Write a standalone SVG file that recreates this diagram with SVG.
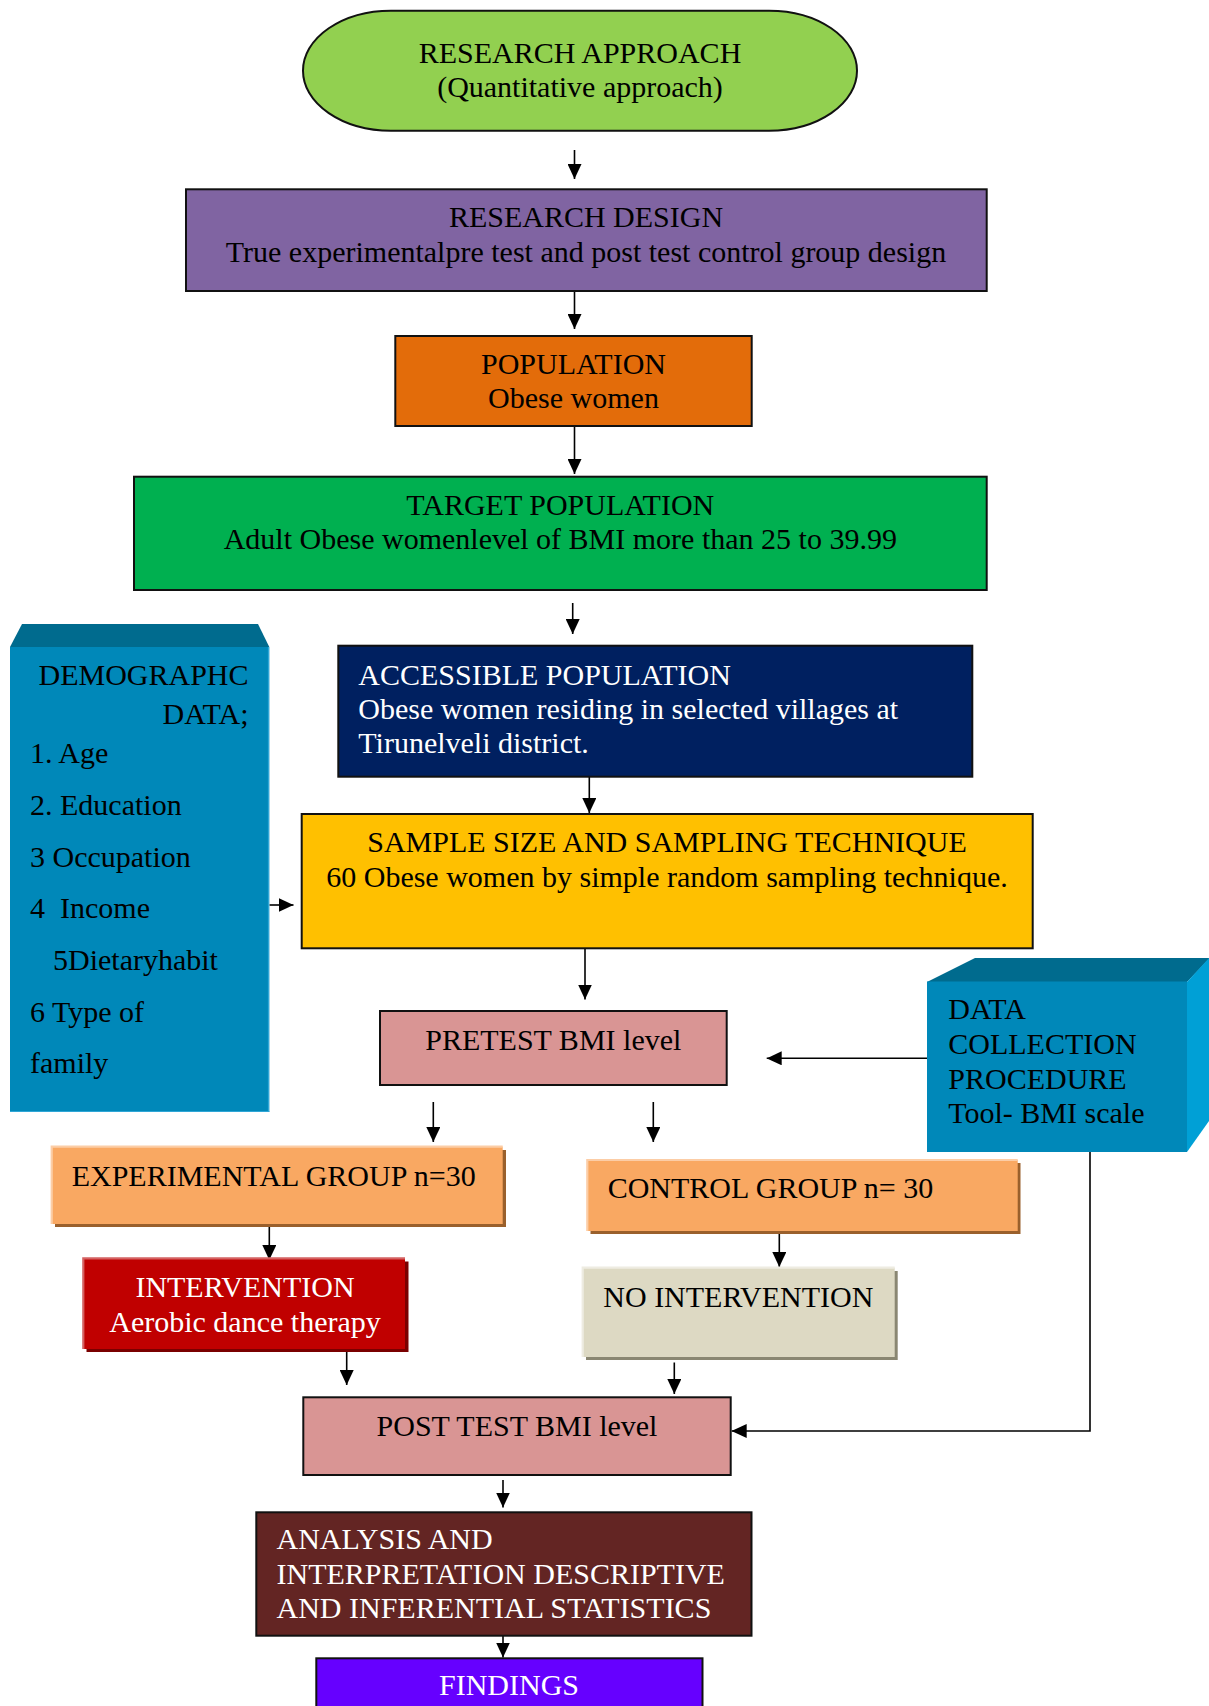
<svg xmlns="http://www.w3.org/2000/svg" width="1209" height="1706" viewBox="0 0 1209 1706">
<defs>
<marker id="ah" markerUnits="userSpaceOnUse" markerWidth="15" markerHeight="14" refX="15" refY="7" orient="auto">
<path d="M0,0 L15,7 L0,14 Z" fill="#000"/>
</marker>
<style>
text{font-family:"Liberation Serif","Times New Roman",serif;font-size:30px;fill:#000}
.w{fill:#fff}
.c{text-anchor:middle}
.r{text-anchor:end}
.box{stroke:#111;stroke-width:2}
.cn{fill:none;stroke:#000;stroke-width:1.6}
.cn2{fill:none;stroke:#000;stroke-width:1.6;marker-end:url(#ah)}
</style>
</defs>
<rect width="1209" height="1706" fill="#fff"/>

<g id="connectors">
<line class="cn2" x1="574.5" y1="150" x2="574.5" y2="179"/>
<line class="cn2" x1="574.5" y1="291" x2="574.5" y2="329"/>
<line class="cn2" x1="574.5" y1="426" x2="574.5" y2="474"/>
<line class="cn2" x1="572.7" y1="603" x2="572.7" y2="634"/>
<line class="cn2" x1="589.3" y1="777" x2="589.3" y2="813"/>
<line class="cn2" x1="269.5" y1="905" x2="293.5" y2="905"/>
<line class="cn2" x1="585" y1="948" x2="585" y2="999.5"/>
<line class="cn2" x1="927" y1="1058.3" x2="766.7" y2="1058.3"/>
<line class="cn2" x1="433.3" y1="1102" x2="433.3" y2="1142"/>
<line class="cn2" x1="653.3" y1="1102" x2="653.3" y2="1142"/>
<line class="cn2" x1="269.3" y1="1226" x2="269.3" y2="1260"/>
<line class="cn2" x1="779.3" y1="1234" x2="779.3" y2="1267"/>
<line class="cn2" x1="346.7" y1="1352" x2="346.7" y2="1385"/>
<line class="cn2" x1="674.3" y1="1362.5" x2="674.3" y2="1394"/>
<polyline class="cn2" points="1090,1152 1090,1431 731.7,1431"/>
<line class="cn2" x1="503" y1="1480" x2="503" y2="1507.5"/>
<line class="cn2" x1="503" y1="1633" x2="503" y2="1657.5"/>
</g>

<g id="research-approach">
<rect class="box" x="303" y="10.7" width="554" height="120" rx="88" ry="60" fill="#92D050"/>
<text class="c" x="580" y="62.5">RESEARCH APPROACH</text>
<text class="c" x="580" y="97">(Quantitative approach)</text>
</g>

<g id="research-design">
<rect class="box" x="186" y="189.3" width="800.7" height="101.7" fill="#8064A2"/>
<text class="c" x="586" y="227.3">RESEARCH DESIGN</text>
<text class="c" x="586" y="262.3">True experimentalpre test and post test control group design</text>
</g>

<g id="population">
<rect class="box" x="395.3" y="336" width="356.4" height="90" fill="#E36C0A"/>
<text class="c" x="573.5" y="374.3">POPULATION</text>
<text class="c" x="573.5" y="408.3">Obese women</text>
</g>

<g id="target-population">
<rect class="box" x="134" y="476.7" width="852.7" height="113.3" fill="#00B050"/>
<text class="c" x="560.3" y="515">TARGET POPULATION</text>
<text class="c" x="560.3" y="549">Adult Obese womenlevel of BMI more than 25 to 39.99</text>
</g>

<g id="demographic-data">
<polygon points="10,647 22,624 258,624 269.3,647" fill="#006B8E"/>
<rect x="10" y="647" width="259.3" height="465" fill="#0088B9"/>
<line x1="268.5" y1="647" x2="268.5" y2="1112" stroke="#2FA6D6" stroke-width="1.2"/>
<line x1="10" y1="1111.5" x2="269.3" y2="1111.5" stroke="#2FA6D6" stroke-width="1"/>
<text class="r" x="248.5" y="685">DEMOGRAPHC</text>
<text class="r" x="248.5" y="724">DATA;</text>
<text x="30" y="763">1. Age</text>
<text x="30" y="815">2. Education</text>
<text x="30" y="866.7">3 Occupation</text>
<text x="30" y="918.3" style="white-space:pre">4  Income</text>
<text x="53" y="970">5Dietaryhabit</text>
<text x="30" y="1021.7">6 Type of</text>
<text x="30" y="1073.3">family</text>
</g>

<g id="accessible-population">
<rect class="box" x="338.3" y="645.7" width="634" height="131" fill="#002060"/>
<text class="w" x="358.3" y="685">ACCESSIBLE POPULATION</text>
<text class="w" x="358.3" y="719">Obese women residing in selected villages at</text>
<text class="w" x="358.3" y="753.3">Tirunelveli district.</text>
</g>

<g id="sample-size">
<rect class="box" x="301.7" y="814" width="731" height="134.3" fill="#FFC000"/>
<text class="c" x="667" y="851.7">SAMPLE SIZE AND SAMPLING TECHNIQUE</text>
<text class="c" x="667" y="886.7">60 Obese women by simple random sampling technique.</text>
</g>

<g id="pretest">
<rect class="box" x="380" y="1011" width="346.7" height="74" fill="#D99594"/>
<text class="c" x="553.3" y="1050">PRETEST BMI level</text>
</g>

<g id="data-collection">
<polygon points="927,982 975,958 1209,958 1209,959 1187,982" fill="#006B8E"/>
<polygon points="1187,982 1209,958 1209,1121 1187,1152" fill="#00A0D6"/>
<rect x="927" y="981.5" width="260" height="170.5" fill="#0088B9"/>
<text x="948.3" y="1019">DATA</text>
<text x="948.3" y="1054">COLLECTION</text>
<text x="948.3" y="1089">PROCEDURE</text>
<text x="948.3" y="1123.3">Tool- BMI scale</text>
</g>

<g id="experimental-group">
<rect x="55" y="1150" width="451" height="77" fill="#9A602C"/>
<rect x="51.7" y="1146.7" width="451" height="77.3" fill="#F9A862"/>
<path d="M51.7,1224 V1146.7 H502.7" fill="none" stroke="#FCCDA6" stroke-width="2.2"/>
<text x="71.7" y="1185.7">EXPERIMENTAL GROUP n=30</text>
</g>

<g id="control-group">
<rect x="590.5" y="1163" width="430" height="71" fill="#9A602C"/>
<rect x="587.3" y="1160" width="430.4" height="71" fill="#F9A862"/>
<path d="M587.3,1231 V1160 H1017.7" fill="none" stroke="#FCCDA6" stroke-width="2.2"/>
<text x="607.7" y="1198.3">CONTROL GROUP n= 30</text>
</g>

<g id="intervention">
<rect x="86.5" y="1261.5" width="322" height="90.5" fill="#7A0000"/>
<rect x="83.3" y="1258.3" width="321.7" height="90.7" fill="#C00000"/>
<path d="M83.3,1349 V1258.3 H405" fill="none" stroke="#D46262" stroke-width="2.2"/>
<text class="c w" x="245" y="1297.3">INTERVENTION</text>
<text class="c w" x="245" y="1332.3">Aerobic dance therapy</text>
</g>

<g id="no-intervention">
<rect x="586" y="1271" width="311.7" height="89" fill="#8A8772"/>
<rect x="582.7" y="1267.7" width="312" height="89.3" fill="#DDD9C3"/>
<path d="M582.7,1357 V1267.7 H894.7" fill="none" stroke="#EEECE2" stroke-width="2.2"/>
<text x="603.3" y="1306.7">NO INTERVENTION</text>
</g>

<g id="post-test">
<rect class="box" x="303.3" y="1397.3" width="427.4" height="77.7" fill="#D99594"/>
<text class="c" x="517" y="1435.7">POST TEST BMI level</text>
</g>

<g id="analysis">
<rect class="box" x="256.3" y="1512.3" width="495.2" height="123.4" fill="#632523"/>
<text class="w" x="276.5" y="1549.3">ANALYSIS AND</text>
<text class="w" x="276.5" y="1584">INTERPRETATION DESCRIPTIVE</text>
<text class="w" x="276.5" y="1618.3">AND INFERENTIAL STATISTICS</text>
</g>

<g id="findings">
<rect class="box" x="316.3" y="1658.3" width="386.2" height="60" fill="#6600FF"/>
<text class="c w" x="509" y="1695">FINDINGS</text>
</g>
</svg>
